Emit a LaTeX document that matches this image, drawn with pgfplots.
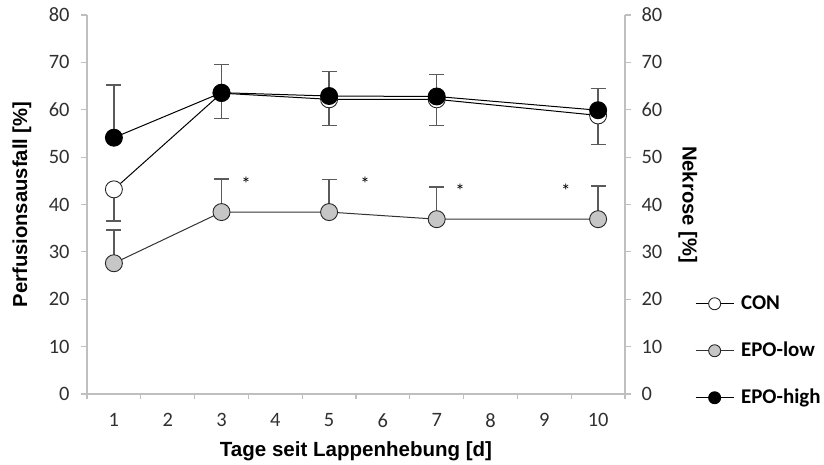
\documentclass[border=0pt]{standalone}
\usepackage{fontspec}
\setmainfont{Carlito}
\newfontfamily\arialfont{Liberation Sans}
\usepackage{pgfplots}
\pgfplotsset{compat=1.18}
\definecolor{axisgray}{HTML}{BFBFBF}
\definecolor{errgray}{HTML}{5A5A5A}
\definecolor{lowfill}{HTML}{C6C6C6}
\definecolor{ticktext}{HTML}{303030}

\pgfplotstableread{
x y e
1 43.2 6.7
3 63.5 5.3
5 62.2 5.5
7 62.2 5.5
10 58.8 6.1
}\con
\pgfplotstableread{
x y e
1 27.6 7.0
3 38.4 7.0
5 38.4 6.9
7 36.9 6.8
10 36.9 7.0
}\epolow
\pgfplotstableread{
x y e
1 54.1 11.1
3 63.6 5.9
5 62.9 5.2
7 62.8 4.6
10 59.9 4.6
}\epohigh

\pgfplotsset{
  common/.style={
    scale only axis, width=538bp, height=379bp,
    xmin=0.5, xmax=10.5, ymin=0, ymax=80,
    ytick={0,10,...,80},
    tick align=outside,
    major tick length=6bp, minor tick length=5bp,
    axis line style={axisgray, line width=1.2bp, -},
    every tick/.style={axisgray, line width=1.2bp},
    ticklabel style={font=\fontsize{20.5}{24}\selectfont, text=ticktext},
    /pgf/number format/assume math mode=true,
  },
  errstyle/.style={
    error bars/.cd, y explicit,
    error bar style={errgray, line width=1.5bp},
    error mark options={errgray, line width=1.5bp, mark size=7.5bp, rotate=90},
  },
}

\begin{document}
\begin{tikzpicture}
\begin{axis}[common, name=main,
  axis x line*=bottom, axis y line*=left,
  xtick={1,...,10}, minor xtick={0.5,1.5,...,10.5},
  major x tick style={draw=none},
  xticklabel style={yshift=-10bp},
  yticklabel style={xshift=-8bp},
  xlabel={\arialfont\bfseries Tage seit Lappenhebung [d]},
  ylabel={\arialfont\bfseries Perfusionsausfall [\%]},
  xlabel style={font=\fontsize{20.6}{24}\selectfont, at={(axis description cs:0.5,-0.1662)}, anchor=base},
  ylabel style={font=\fontsize{20.3}{24}\selectfont, at={(axis description cs:-0.121,0.5)}, anchor=center},
  legend style={at={(axis description cs:1.130,0.269)}, anchor=north west, draw=none, fill=none,
    inner sep=0pt, row sep=24bp, column sep=5bp,
    font=\fontsize{21}{24}\selectfont\bfseries,
    nodes={inner sep=2bp, text height=15bp, text depth=4bp}},
  legend cell align=left,
  legend image code/.code={\draw[mark repeat=2, mark phase=2, mark size=6bp] plot coordinates {(0bp,0bp) (19bp,0bp) (38bp,0bp)};},
]
\addplot[black, line width=1bp, mark=*, mark size=8.5bp,
  mark options={fill=white, draw=black!85, line width=0.9bp},
  errstyle, y dir=minus] table[x=x, y=y, y error=e] {\con};
\addlegendentry{CON}
\addplot[black!80, line width=1bp, mark=*, mark size=8.5bp,
  mark options={fill=lowfill, draw=black!85, line width=0.9bp},
  errstyle, y dir=plus] table[x=x, y=y, y error=e] {\epolow};
\addlegendentry{EPO-low}
\addplot[black, line width=1bp, mark=*, mark size=8.5bp,
  mark options={fill=black, draw=black, line width=0.9bp},
  errstyle, y dir=plus] table[x=x, y=y, y error=e] {\epohigh};
\addlegendentry{EPO-high}
\node[font=\fontsize{19}{22}\selectfont] at (axis cs:3.455,44.3) {*};
\node[font=\fontsize{19}{22}\selectfont] at (axis cs:5.667,44.3) {*};
\node[font=\fontsize{19}{22}\selectfont] at (axis cs:7.433,43.0) {*};
\node[font=\fontsize{19}{22}\selectfont] at (axis cs:9.40,43.0) {*};
\end{axis}
\begin{axis}[common,
  axis x line=none, axis y line*=right,
  yticklabel style={xshift=7bp},
  ylabel={\arialfont\bfseries Nekrose [\%]},
  ylabel style={font=\fontsize{20.3}{24}\selectfont, at={(axis description cs:1.117,0.5)}, anchor=center, rotate=180},
]
\addplot[draw=none, forget plot] coordinates {(1,0)};
\end{axis}
\path (main.south west) ++(-87bp,-70bp) rectangle ++(824bp,464bp);
\end{tikzpicture}
\end{document}
